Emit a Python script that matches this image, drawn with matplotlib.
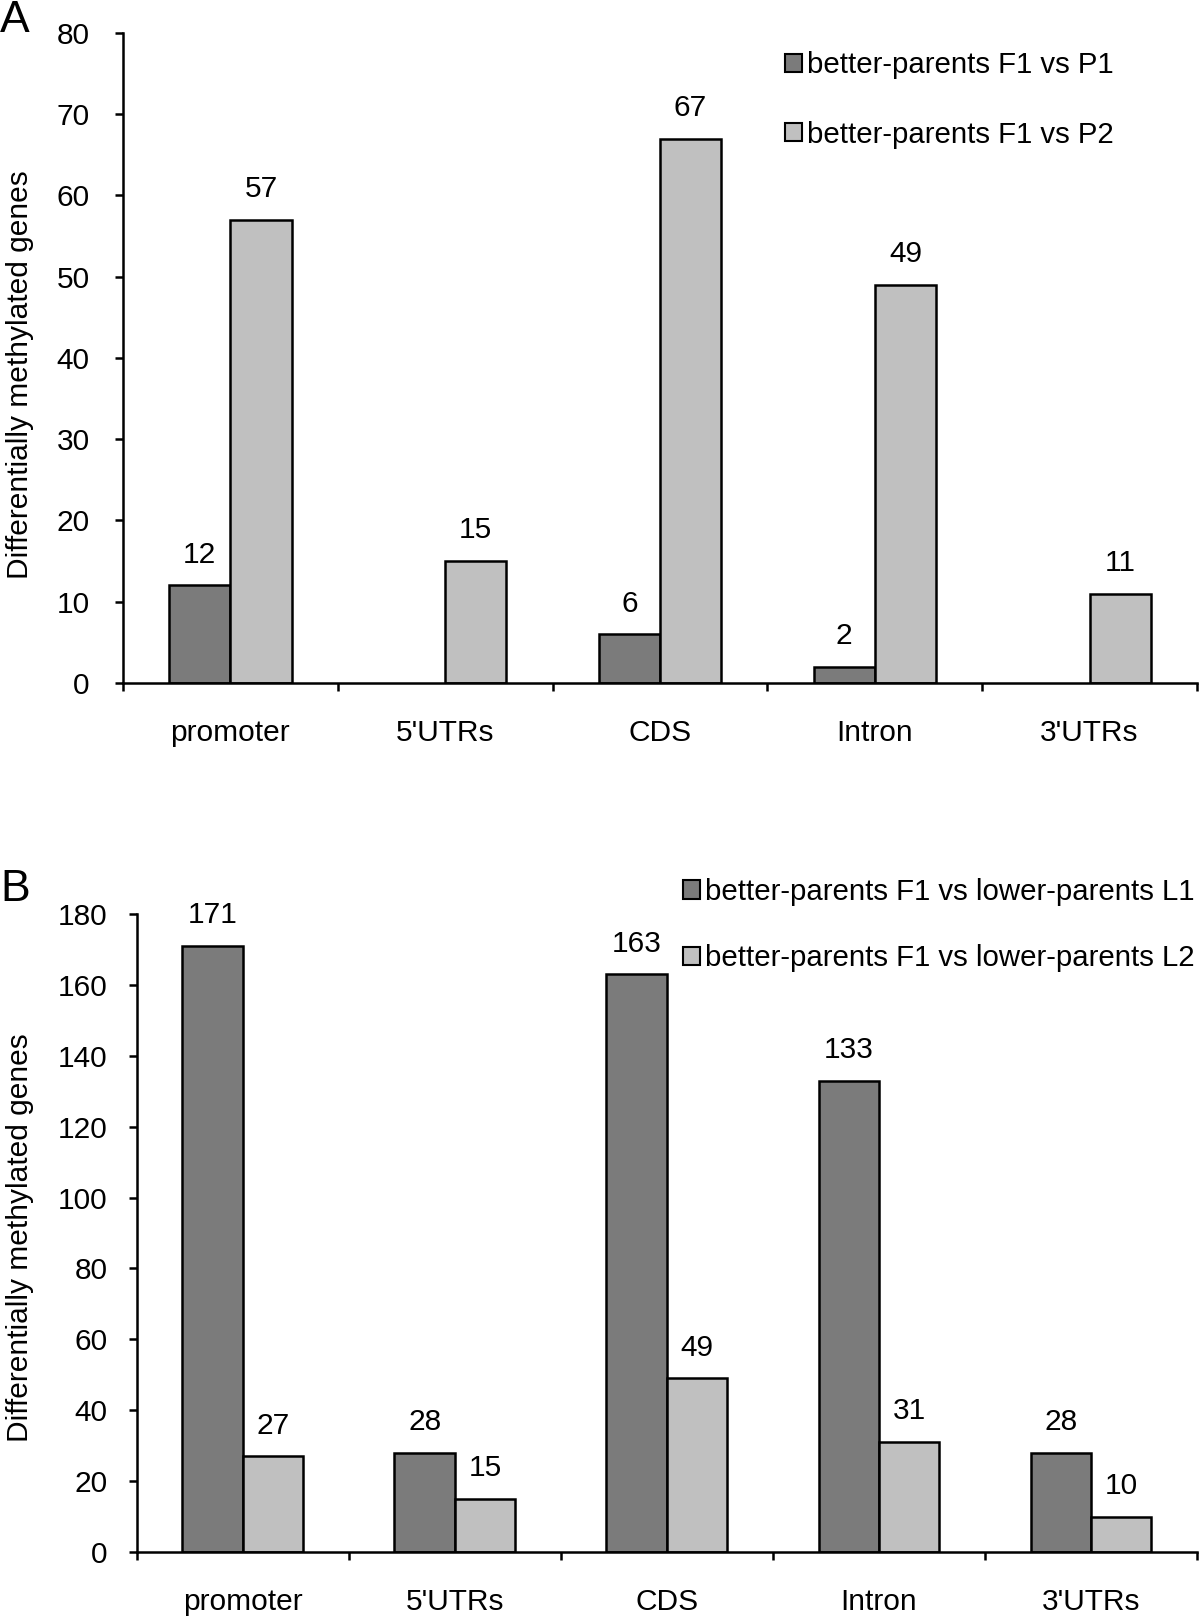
import numpy as np
import matplotlib
matplotlib.use("Agg")
import matplotlib.pyplot as plt

plt.rcParams['font.family'] = ['Liberation Sans', 'DejaVu Sans']

# categories shared by both panels
regions = ["promoter", "5'UTRs", "CDS", "Intron", "3'UTRs"]

# panel A values
a_p1 = [12, 0, 6, 2, 0]
a_p2 = [57, 15, 67, 49, 11]
a_labels = ["better-parents F1 vs P1", "better-parents F1 vs P2"]

# panel B values
b_l1 = [171, 28, 163, 133, 28]
b_l2 = [27, 15, 49, 31, 10]
b_labels = ["better-parents F1 vs lower-parents L1",
            "better-parents F1 vs lower-parents L2"]

dark = "#7b7b7b"
light = "#c0c0c0"
fs = 21.5
legfs = 21.2


def draw_panel(ax, s1, s2, ymax, ystep, ypad):
    x = np.arange(len(regions))
    w = 0.285
    for vals, off, col in [(s1, -w / 2, dark), (s2, w / 2, light)]:
        for xi, v in zip(x, vals):
            if v == 0:
                continue
            ax.bar(xi + off, v, width=w, color=col, edgecolor="black", linewidth=1.8, zorder=2)
            ax.annotate(str(v), (xi + off, v), xytext=(0, 12), textcoords="offset points",
                        ha="center", va="bottom", fontsize=fs)
    ax.set_xlim(-0.5, len(regions) - 0.5)
    ax.set_ylim(0, ymax)
    ax.set_yticks(np.arange(0, ymax + 1, ystep))
    ax.set_xticks(np.arange(len(regions) + 1) - 0.5)
    ax.set_xticklabels([])
    ax.set_xticks(x, minor=True)
    ax.set_xticklabels(regions, minor=True, fontsize=fs)
    ax.tick_params(axis="x", which="minor", length=0, pad=26)
    ax.tick_params(axis="x", which="major", direction="out", length=6, width=1.8)
    ax.tick_params(axis="y", direction="out", length=6, width=1.8, labelsize=fs, pad=ypad)
    for s in ["top", "right"]:
        ax.spines[s].set_visible(False)
    for s in ["left", "bottom"]:
        ax.spines[s].set_linewidth(1.8)
    ax.set_ylabel("Differentially methylated genes", fontsize=fs)


fig = plt.figure(figsize=(12, 16.18), dpi=100)

ax1 = fig.add_axes([0.1025, 0.5779, 0.895, 0.4017])
draw_panel(ax1, a_p1, a_p2, 80, 10, 18)
ax1.yaxis.set_label_coords(-0.083, 0.474)
h1 = [plt.Rectangle((0, 0), 1, 1, facecolor=c, edgecolor="black", linewidth=1.5) for c in (dark, light)]
fig.legend(h1, a_labels, loc="upper left", bbox_to_anchor=(0.654, 0.9685), frameon=False,
           fontsize=legfs, handlelength=0.57, handleheight=0.57, handletextpad=0.18,
           labelspacing=1.42, borderpad=0, borderaxespad=0)

ax2 = fig.add_axes([0.1140, 0.0408, 0.8835, 0.3943])
draw_panel(ax2, b_l1, b_l2, 180, 20, 15)
ax2.yaxis.set_label_coords(-0.097, 0.492)
h2 = [plt.Rectangle((0, 0), 1, 1, facecolor=c, edgecolor="black", linewidth=1.5) for c in (dark, light)]
fig.legend(h2, b_labels, loc="upper left", bbox_to_anchor=(0.569, 0.4574), frameon=False,
           fontsize=legfs, handlelength=0.57, handleheight=0.57, handletextpad=0.2,
           labelspacing=1.3, borderpad=0, borderaxespad=0)

fig.text(0.0, 1.0, "A", fontsize=32, ha="left", va="top")
fig.text(0.0, 0.4632, "B", fontsize=32, ha="left", va="top")

fig.savefig("out.png", dpi=100)
